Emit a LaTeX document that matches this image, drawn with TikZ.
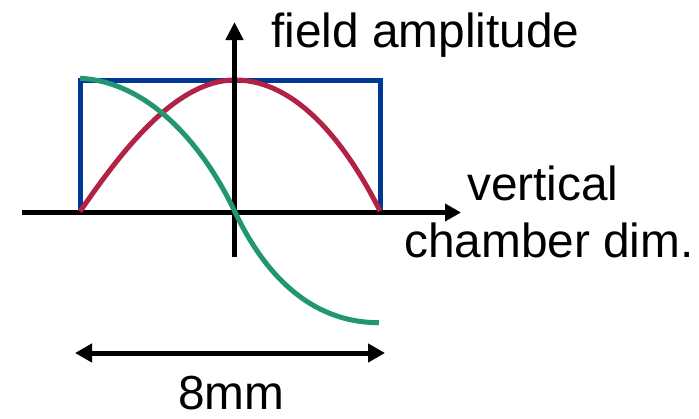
\documentclass[tikz,border=0pt]{standalone}
\usepackage{fontspec}
\setmainfont{Liberation Sans}
\usetikzlibrary{arrows.meta}
\definecolor{wgblue}{RGB}{0,56,150}
\definecolor{wgred}{RGB}{178,34,68}
\definecolor{wggreen}{RGB}{34,150,112}
\tikzset{
  axisline/.style={line width=5pt, black},
  curveline/.style={line width=5pt},
  lbl/.style={inner sep=0pt, font=\fontsize{47.8}{56}\selectfont},
}
\begin{document}
\begin{tikzpicture}[x=1pt,y=-1pt]
\useasboundingbox (0,0) rectangle (699,418);
% coordinates
\coordinate (hL) at (22,212.5);
\coordinate (hR) at (461,212.5);
\coordinate (vB) at (234.5,257);
\coordinate (vT) at (234.5,22);
\coordinate (dL) at (75,353);
\coordinate (dR) at (385,353);
\coordinate (redL) at (80,211.5);
\coordinate (redT) at (235,80);
\coordinate (redR) at (380,211);
\coordinate (grL) at (80,78.3);
\coordinate (grM) at (235,212);
\coordinate (grR) at (379,322.7);
% horizontal axis
\draw[axisline, -{Triangle[length=16pt,width=17pt]}] (hL) -- (hR);
% blue rectangle
\draw[curveline, wgblue, line join=miter] (80,210) -- (80,80) -- (380,80) -- (380,210);
% red arch
\draw[curveline, wgred] (redL) .. controls (120,153.5) and (175,80) .. (redT)
  .. controls (300,80) and (350,151) .. (redR);
% vertical axis
\draw[axisline, -{Triangle[length=18pt,width=17pt]}] (vB) -- (vT);
% green curve
\draw[curveline, wggreen] (grL) .. controls (140,81) and (197,132) .. (grM)
  .. controls (270,285.5) and (319,322.7) .. (grR);
% dimension arrow
\draw[axisline, {Triangle[length=17pt,width=18pt]}-{Triangle[length=17pt,width=18pt]}] (dL) -- (dR);
% labels
\node[lbl, anchor=base west] (fa) at (271,47) {field amplitude};
\node[lbl, anchor=base west] (vt) at (467,200) {vertical};
\node[lbl, anchor=base west] (cd) at (404,257) {chamber dim.};
\node[lbl, anchor=base] (mm) at (231.5,409) {8mm};
\end{tikzpicture}
\end{document}
